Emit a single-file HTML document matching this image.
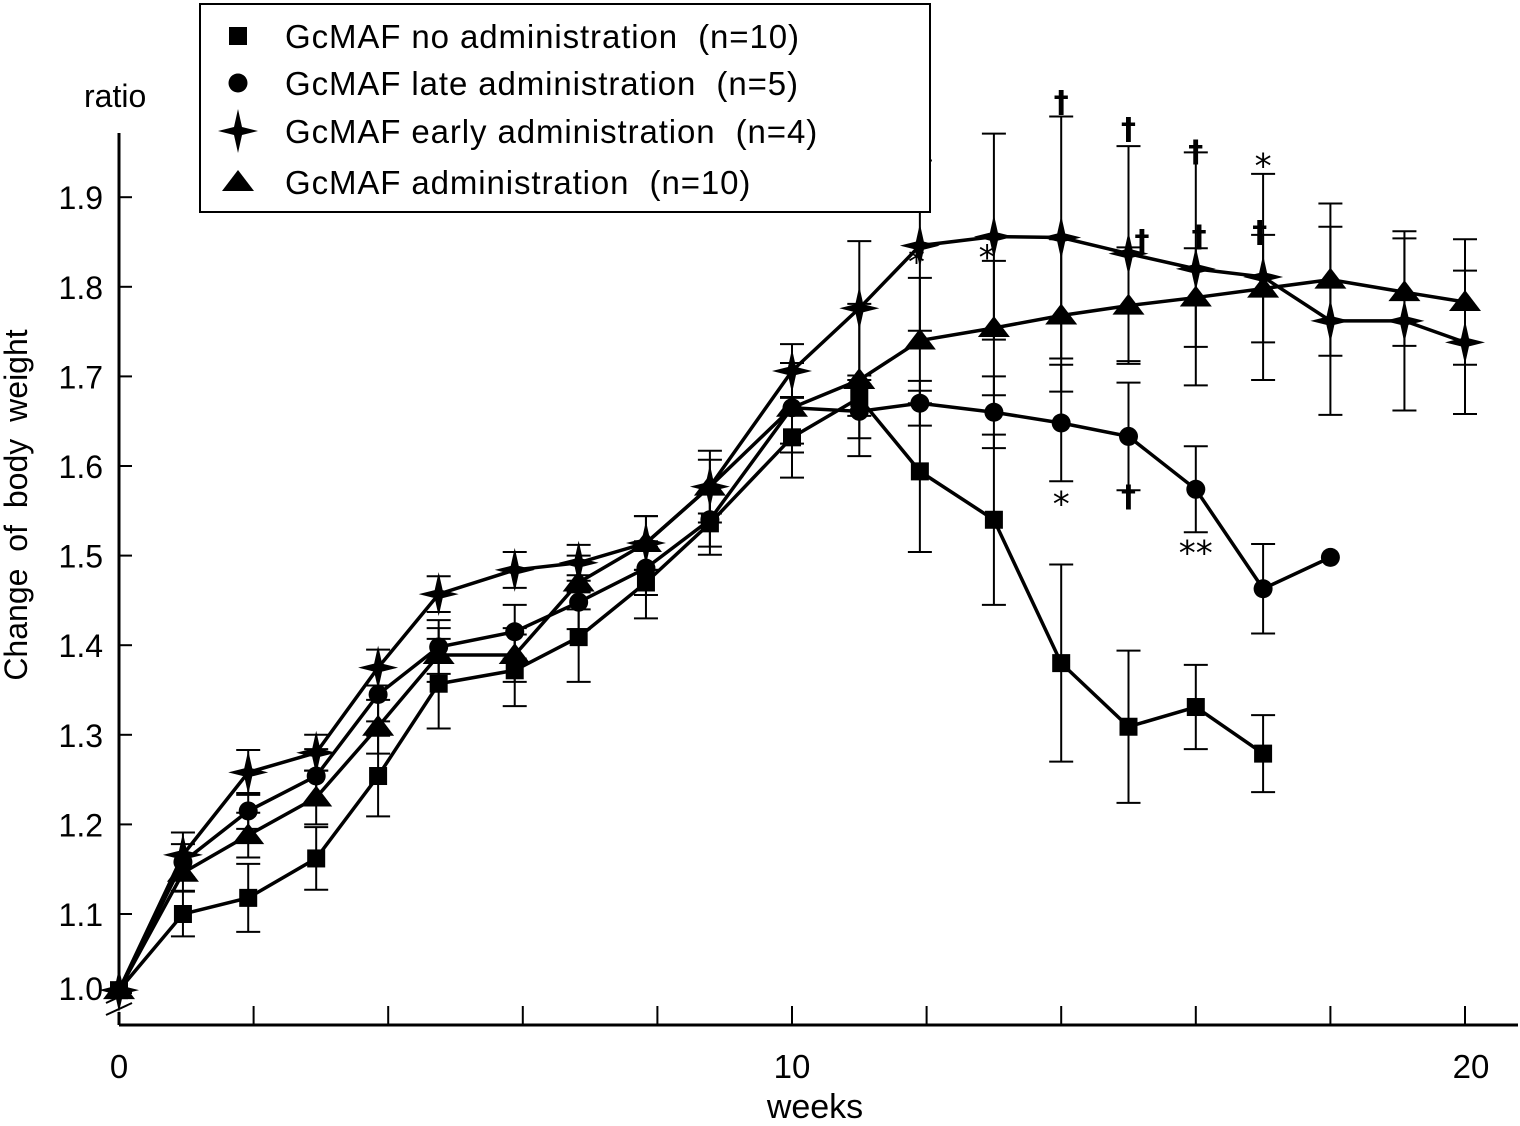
<!DOCTYPE html>
<html><head><meta charset="utf-8"><style>
html,body{margin:0;padding:0;background:#fff;}
svg{display:block;font-family:"Liberation Sans",Arial,sans-serif;}
</style></head><body>
<svg id="chart" width="1520" height="1126" viewBox="0 0 1520 1126" xmlns="http://www.w3.org/2000/svg">
<g id="axes"></g>
<g id="series"></g>
<g id="legend"></g>
</svg>
<script>
const weeks=[0,0.95,1.92,2.93,3.85,4.75,5.88,6.83,7.83,8.78,10,11,11.9,13,14,15,16,17,18,19.1,20];
const noAdmin=[1.015,1.10,1.118,1.162,1.254,1.357,1.372,1.409,1.47,1.536,1.632,1.676,1.594,1.54,1.38,1.309,1.331,1.279];
const noAdminErr=[0,0.025,0.038,0.035,0.045,0.05,0.04,0.05,0.04,0.035,0.045,0.02,0.09,0.095,0.11,0.085,0.047,0.043];
const late=[1.015,1.158,1.215,1.254,1.345,1.398,1.415,1.448,1.486,1.54,1.665,1.661,1.67,1.66,1.648,1.633,1.574,1.463,1.498];
const lateErr=[0,0.02,0.02,0.03,0.03,0.03,0.03,0.03,0.03,0.03,0.04,0.03,0.025,0.04,0.065,0.06,0.048,0.05,0];
const early=[1.015,1.166,1.258,1.28,1.375,1.457,1.484,1.492,1.514,1.577,1.706,1.776,1.846,1.856,1.855,1.837,1.82,1.811,1.762,1.762,1.738];
const earlyErr=[0,0.025,0.025,0.02,0.02,0.02,0.02,0.02,0.03,0.04,0.03,0.075,0.095,0.115,0.135,0.12,0.13,0.115,0.105,0.1,0.08];
const admin=[1.015,1.146,1.188,1.23,1.309,1.389,1.389,1.47,1.514,1.577,1.665,1.696,1.74,1.754,1.768,1.779,1.788,1.798,1.808,1.794,1.783];
const adminErr=[0,0.02,0.025,0.03,0.03,0.03,0.03,0.03,0.03,0.03,0.05,0.085,0.07,0.075,0.085,0.065,0.055,0.06,0.085,0.06,0.07];
const yTicks=[1.1,1.2,1.3,1.4,1.5,1.6,1.7,1.8,1.9];
const xTickWeeks=[2,4,6,8,10,12,14,16,18,20];
const xLabels=[0,10,20];
const annotText=["*","*","†","†","†","*","†","†","†","*","†","**"];
const annotWeek=[11.85,12.9,14,15,16,17,15.2,16.05,16.95,14,15,16];
const annotVal=[1.815,1.82,1.995,1.965,1.94,1.922,1.84,1.845,1.85,1.545,1.555,1.49];

const NS="http://www.w3.org/2000/svg";
const X=w=>119+w*67.3;
const Y=v=>914-(v-1.1)*896;
function el(t,a,p){const e=document.createElementNS(NS,t);for(const k in a)e.setAttribute(k,a[k]);p.appendChild(e);return e;}
const axes=document.getElementById('axes'),ser=document.getElementById('series'),leg=document.getElementById('legend');
let a=el('line',{x1:119,y1:1025,x2:1518,y2:1025,stroke:'#000','stroke-width':3},axes);

a=el('path',{d:'M119 133 V1000 M119 1012 V1025',stroke:'#000','stroke-width':3,fill:'none'},axes);

a=el('path',{d:'M106 1003 L132 991 M106 1015 L132 1003',stroke:'#000','stroke-width':2,fill:'none'},axes);

yTicks.forEach(v=>{
 const t=el('line',{x1:119,y1:Y(v),x2:132,y2:Y(v),stroke:'#000','stroke-width':2},axes);
 
 const l=el('text',{x:103,y:Y(v)+12,'text-anchor':'end','font-size':32},axes);l.textContent=v.toFixed(1);
 
});
a=el('line',{x1:119,y1:993,x2:132,y2:993,stroke:'#000','stroke-width':2},axes);

a=el('text',{x:103,y:1000,'text-anchor':'end','font-size':32},axes);a.textContent='1.0';

xTickWeeks.forEach(w=>{
 const t=el('line',{x1:X(w),y1:1025,x2:X(w),y2:1006,stroke:'#000','stroke-width':2},axes);
 
});
xLabels.forEach(w=>{
 const l=el('text',{x:X(w)+(w===20?6:0),y:1078,'text-anchor':'middle','font-size':33},axes);l.textContent=w;
 
});
a=el('text',{x:815,y:1118,'text-anchor':'middle','font-size':34},axes);a.textContent='weeks';

a=el('text',{x:84,y:107,'font-size':32},axes);a.textContent='ratio';

a=el('text',{x:0,y:0,'text-anchor':'middle','font-size':32,'word-spacing':8,transform:'translate(27,505) rotate(-90)'},axes);a.textContent='Change of body weight';


function marker(kind,cx,cy,p){
 if(kind==='sq')return el('rect',{x:cx-9,y:cy-9,width:18,height:18,fill:'#000'},p);
 if(kind==='ci')return el('circle',{cx:cx,cy:cy,r:9.5,fill:'#000'},p);
 if(kind==='tr')return el('path',{d:`M${cx} ${cy-12} L${cx+16} ${cy+9} L${cx-16} ${cy+9}Z`,fill:'#000'},p);
 return el('path',{d:`M${cx} ${cy-22} L${cx+4} ${cy-4} L${cx+20} ${cy} L${cx+4} ${cy+4} L${cx} ${cy+22} L${cx-4} ${cy+4} L${cx-20} ${cy} L${cx-4} ${cy-4}Z`,fill:'#000'},p);
}
function series(name,vals,errs,kind){
 const g=el('g',{},ser);
 vals.forEach((v,i)=>{if(!errs[i])return;const x=X(weeks[i]),e=errs[i]*896;
  const b=el('path',{d:`M${x} ${Y(v)-e} V${Y(v)+e} M${x-12} ${Y(v)-e} H${x+12} M${x-12} ${Y(v)+e} H${x+12}`,stroke:'#000','stroke-width':2,fill:'none'},g);
  });
 const ln=el('polyline',{points:vals.map((v,i)=>X(weeks[i])+','+Y(v)).join(' '),stroke:'#000','stroke-width':3.5,fill:'none'},g);
 
 vals.forEach((v,i)=>{const m=marker(kind,X(weeks[i]),Y(v),g);
  });
}
series('series-no-administration',noAdmin,noAdminErr,'sq');
series('series-late-administration',late,lateErr,'ci');
series('series-administration',admin,adminErr,'tr');
series('series-early-administration',early,earlyErr,'st');
annotText.forEach((t,i)=>{const dag=t==='†';
 const l=el('text',{x:X(annotWeek[i]),y:Y(annotVal[i]),'text-anchor':'middle','font-size':dag?30:34,'font-family':'"DejaVu Sans",sans-serif','font-weight':dag?'bold':'normal'},ser);
 l.textContent=t;});
a=el('rect',{x:200,y:4,width:730,height:208,fill:'#fff',stroke:'#000','stroke-width':2},leg);

const legText=['GcMAF no administration\u00a0\u00a0(n=10)','GcMAF late administration\u00a0\u00a0(n=5)','GcMAF early administration\u00a0\u00a0(n=4)','GcMAF administration\u00a0\u00a0(n=10)'];
const legKind=['sq','ci','st','tr'];const legY=[36,83,131,182];
legText.forEach((t,i)=>{const g=el('g',{},leg);
 const m=marker(legKind[i],238,legY[i],g);
 const l=el('text',{x:285,y:legY[i]+12,'font-size':33,'letter-spacing':0.9},g);l.textContent=t;
 });
</script>
</body></html>
